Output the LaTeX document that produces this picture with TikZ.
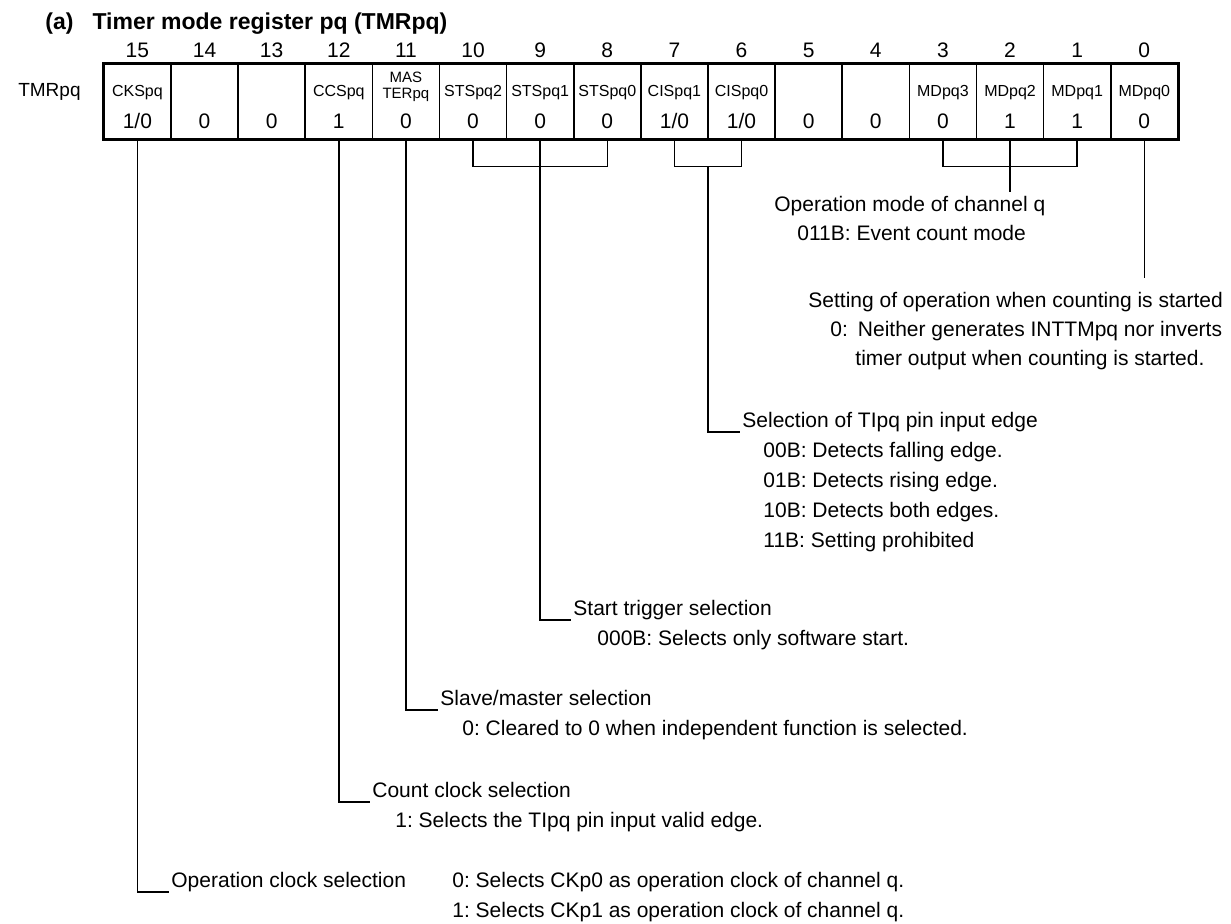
\documentclass[tikz,border=0pt]{standalone}
\usepackage{fontspec}
\setmainfont{Liberation Sans}
\usepackage{tikz}
\usetikzlibrary{calc}
\newcommand\onezero{1/0}
\newcommand\bodyfont{\fontsize{10.5}{12}\selectfont}
\frenchspacing

\begin{document}
\begin{tikzpicture}[
    x=0.5pt, y=-0.5pt,
    cell/.style={rectangle, draw, line width=0.85pt, minimum width=33.5625pt, minimum height=37.5pt, inner sep=0pt, anchor=north west},
    bitnum/.style={font=\bodyfont, anchor=base, inner sep=0pt},
    bitname/.style={font=\fontsize{8}{9}\selectfont, anchor=base, inner sep=0pt},
    smallname/.style={font=\fontsize{7.5}{8}\selectfont, anchor=base, inner sep=0pt},
    bitval/.style={font=\bodyfont, anchor=base, inner sep=0pt},
    head/.style={font=\bodyfont, anchor=base west, inner sep=0pt},
    link/.style={line width=0.75pt},
    corner/.style={shift={(-1pt,-2.5pt)}}
]
    \useasboundingbox (0,0) rectangle (1231,923);

    % Title and register
    \node (title) [anchor=base west, font=\bfseries\fontsize{11.5}{13}\selectfont, inner sep=0pt] at (45,29) {(a)\hspace{9.5pt}Timer mode register pq (TMRpq)};
    \node (reg) [head, anchor=base east, font=\fontsize{9.5}{11}\selectfont] at (81,96) {TMRpq};

    \foreach \b/\nm/\v [count=\i from 0] in {15/CKSpq/\onezero, 14//0, 13//0, 12/CCSpq/1, 11//0, 10/STSpq2/0, 9/STSpq1/0, 8/STSpq0/0, 7/CISpq1/\onezero, 6/CISpq0/\onezero, 5//0, 4//0, 3/MDpq3/0, 2/MDpq2/1, 1/MDpq1/1, 0/MDpq0/0} {
        \node (c\b) [cell] at (103+\i*67.125,63) {};
        \node (b\b) [bitnum] at (c\b.north |- 0,57) {\b};
        \node (n\b) [bitname] at (c\b.north |- 0,96) {\nm};
        \node (v\b) [bitval] at (c\b.north |- 0,128) {\v};
    }
    \node (mas) [smallname] at (c11.north |- 0,82) {MAS};
    \node (ter) [smallname] at (c11.north |- 0,98) {TERpq};
    \draw [line width=1.4pt] (c15.north west) rectangle (c0.south east);

    % Descriptions
    \node (mdh) [head] at (774,211) {Operation mode of channel q};
    \node (mdl) [head] at (797,240) {011B: Event count mode};

    \node (mzh) [head] at (808,307) {Setting of operation when counting is started};
    \node (mzl1) [head] at (830,336) {0:\hspace{5pt}Neither generates INTTMpq nor inverts};
    \node (mzl2) [head] at (855,365) {timer output when counting is started.};

    \node (cish) [head] at (742,427) {Selection of TIpq pin input edge};
    \node (cisl1) [head] at (763,457) {00B: Detects falling edge.};
    \node (cisl2) [head] at (763,487) {01B: Detects rising edge.};
    \node (cisl3) [head] at (763,517) {10B: Detects both edges.};
    \node (cisl4) [head] at (763,547) {11B: Setting prohibited};

    \node (stsh) [head] at (573,615) {Start trigger selection};
    \node (stsl) [head] at (597,645) {000B: Selects only software start.};

    \node (mash) [head] at (440,705) {Slave/master selection};
    \node (masl) [head] at (462,735) {0: Cleared to 0 when independent function is selected.};

    \node (ccsh) [head] at (372,797) {Count clock selection};
    \node (ccsl) [head] at (395,827) {1: Selects the TIpq pin input valid edge.};

    \node (cksh) [head] at (171,887) {Operation clock selection};
    \node (cksl1) [head] at (452,887) {0: Selects CKp0 as operation clock of channel q.};
    \node (cksl2) [head] at (452,917) {1: Selects CKp1 as operation clock of channel q.};

    % Brackets and leaders
    \coordinate (mdend) at (c2.south |- 0,192);
    \coordinate (mzend) at (c0.south |- 0,278);
    \coordinate (cismid) at ($(c7.south)!0.5!(c6.south)+(0,27)$);

    \draw [link] (c3.south) -- ++(0,27) -| (c1.south);
    \draw [link] (c2.south) -- (mdend);
    \draw [link] (c0.south) -- (mzend);
    \draw [link] (c7.south) -- ++(0,27) -| (c6.south);
    \draw [link] (cismid) |- ([corner]cish.base west);
    \draw [link] (c10.south) -- ++(0,27) -| (c8.south);
    \draw [link] (c9.south) |- ([corner]stsh.base west);
    \draw [link] (c11.south) |- ([corner]mash.base west);
    \draw [link] (c12.south) |- ([corner]ccsh.base west);
    \draw [link] (c15.south) |- ([corner]cksh.base west);
\end{tikzpicture}
\end{document}
